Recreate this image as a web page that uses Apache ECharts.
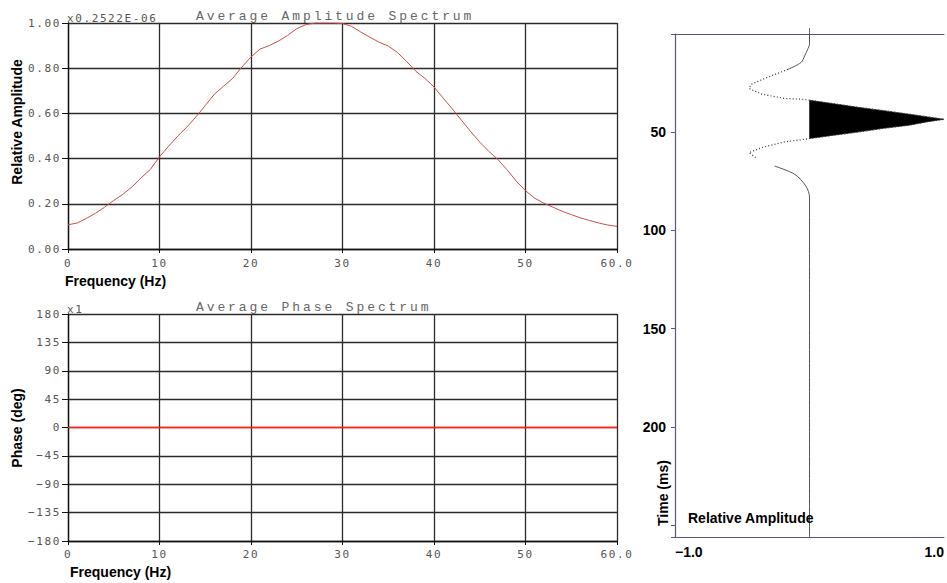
<!DOCTYPE html>
<html><head><meta charset="utf-8">
<script src="https://cdn.jsdelivr.net/npm/echarts@6/dist/echarts.min.js"></script>
<style>
html,body{margin:0;padding:0;background:#fff;overflow:hidden}
#c{width:947px;height:583px}
#c text[style*="Liberation Mono"], #c text[font-family*="Liberation Mono"]{letter-spacing:2.9px}
#c text[style*="DejaVu Sans Mono"], #c text[font-family*="DejaVu Sans Mono"]{letter-spacing:1.6px}
</style></head><body><div id="c"></div>
<script>
// ---- Average amplitude spectrum (relative, x0.2522E-06) ----
const freqHz = [0,1,2,3,4,5,6,7,8,9,10,11,12,13,14,15,16,17,18,19,20,21,22,23,24,25,26,27,28,29,30,
  31,32,33,34,35,36,37,38,39,40,41,42,43,44,45,46,47,48,49,50,51,52,53,54,55,56,57,58,59,60];
const avgAmplitude = [0.107,0.115,0.135,0.158,0.185,0.215,0.242,0.275,0.315,0.352,
  0.408,0.455,0.500,0.540,0.585,0.635,0.685,0.720,0.755,0.805,
  0.850,0.885,0.900,0.920,0.945,0.975,0.993,1.000,1.000,1.000,
  0.998,0.985,0.960,0.937,0.915,0.898,0.870,0.830,0.787,0.755,
  0.717,0.668,0.620,0.570,0.520,0.473,0.432,0.395,0.350,0.300,
  0.258,0.225,0.203,0.185,0.167,0.152,0.138,0.126,0.115,0.106,0.100];

// ---- Average phase spectrum (deg) ----
const phaseFreqHz = [0,5,10,15,20,25,30,35,40,45,50,55,60];
const avgPhaseDeg = [0,0,0,0,0,0,0,0,0,0,0,0,0];

// ---- Wavelet (time in ms, relative amplitude) ----
const waveTimeMs = [-3,0,5,8,11,14.5,18,22,25.5,27.7,30.6,32.8,33.2,33.7,35.5,37.4,39,40.8,42.2,43.4,
  44.6,46.4,48,49.8,51.5,53.2,53.7,54.9,57.8,60.4,62.9,67.2,71.4,77.4,83,256];
const waveAmp = [0,0,0,-0.015,-0.035,-0.063,-0.16,-0.31,-0.43,-0.45,-0.355,-0.185,-0.05,0,0.18,0.37,0.55,0.74,0.88,1.0,
  0.88,0.74,0.55,0.37,0.18,0,-0.05,-0.185,-0.355,-0.45,-0.40,-0.26,-0.11,-0.027,0,0];

const monoTick = {fontFamily:'DejaVu Sans Mono', fontSize:11, color:'#555'};
const gridLine = {show:true, lineStyle:{color:'#2b2b2b', width:1.3}};
const boldFont = 'bold 14px "Liberation Sans", Arial, sans-serif';
const frameBlue = '#55558a';
const phaseRed = '#f02a18';

const ampPts = freqHz.map((f,i)=>[f, avgAmplitude[i]]);
const phasePts = phaseFreqHz.map((f,i)=>[f, avgPhaseDeg[i]]);
const wavePts = waveTimeMs.map((t,i)=>[waveAmp[i], t]);
const waveSolidTop = wavePts.filter(p=>p[1] <= 18);
const waveSolidBot = wavePts.filter(p=>p[1] >= 67);
const waveDotted = wavePts.filter(p=>p[1] >= 18 && p[1] <= 67);
const lobe = wavePts.filter(p=>p[1] >= 33.7 && p[1] <= 53.2 && p[0] >= 0);

const chart = echarts.init(document.getElementById('c'), null, {renderer:'svg'});
chart.setOption({
  animation:false,
  backgroundColor:'#fff',
  grid:[
    {left:68, top:23, width:549, height:226},
    {left:68, top:314, width:549, height:227},
    {left:675, top:34, width:274, height:503}
  ],
  xAxis:[
    {gridIndex:0, type:'value', min:0, max:60, interval:10,
     axisLine:{show:true, onZero:false, lineStyle:{color:'#111', width:1.3}},
     axisTick:{show:true, length:4, lineStyle:{color:'#111'}},
     axisLabel:Object.assign({margin:9, formatter:v=>v===60?'60.0':String(v)}, monoTick),
     splitLine:gridLine},
    {gridIndex:1, type:'value', min:0, max:60, interval:10,
     axisLine:{show:true, onZero:false, lineStyle:{color:'#111', width:1.3}},
     axisTick:{show:true, length:4, lineStyle:{color:'#111'}},
     axisLabel:Object.assign({margin:8, formatter:v=>v===60?'60.0':String(v)}, monoTick),
     splitLine:gridLine},
    {gridIndex:2, type:'value', min:-1, max:1, interval:2, position:'bottom',
     axisLine:{show:true, onZero:false, lineStyle:{color:frameBlue, width:1.2}},
     axisTick:{show:false}, splitLine:{show:false},
     axisLabel:{margin:8, fontSize:14, fontWeight:'bold', fontFamily:'Liberation Sans', color:'#000',
       alignMinLabel:'left', alignMaxLabel:'right',
       formatter:v=>(v<0?'\u2212':'')+Math.abs(v).toFixed(1)}},
    {gridIndex:2, type:'value', min:-1, max:1, interval:2, position:'top',
     axisLine:{show:true, onZero:false, lineStyle:{color:frameBlue, width:1.2}},
     axisTick:{show:false}, splitLine:{show:false}, axisLabel:{show:false}}
  ],
  yAxis:[
    {gridIndex:0, type:'value', min:0, max:1, interval:0.2,
     axisLine:{show:true, onZero:false, lineStyle:{color:'#111', width:1.3}},
     axisTick:{show:true, length:6, lineStyle:{color:'#111'}},
     axisLabel:Object.assign({margin:7, formatter:v=>v.toFixed(2)}, monoTick),
     splitLine:gridLine},
    {gridIndex:1, type:'value', min:-180, max:180, interval:45,
     axisLine:{show:true, onZero:false, lineStyle:{color:'#111', width:1.3}},
     axisTick:{show:true, length:6, lineStyle:{color:'#111'}},
     axisLabel:Object.assign({margin:7, formatter:v=>(v<0?'\u2212':'')+Math.abs(v)}, monoTick),
     splitLine:{show:true, lineStyle:{width:1.3,
       color:['#2b2b2b','#2b2b2b','#2b2b2b','#2b2b2b',phaseRed,'#2b2b2b','#2b2b2b','#2b2b2b','#2b2b2b']}}},
    {gridIndex:2, type:'value', inverse:true, min:0, max:256, interval:50,
     axisLine:{show:true, onZero:false, lineStyle:{color:frameBlue, width:1.2}},
     axisTick:{show:true, length:4, lineStyle:{color:frameBlue}},
     axisLabel:{margin:9, fontSize:14, fontWeight:'bold', fontFamily:'Liberation Sans', color:'#000',
       formatter:v=>(v>0 && v<250)?String(v):''},
     splitLine:{show:false}}
  ],
  series:[
    {type:'line', xAxisIndex:0, yAxisIndex:0, data:ampPts, showSymbol:false, z:5,
     lineStyle:{color:'#cc4d4d', width:1}},
    {type:'line', xAxisIndex:1, yAxisIndex:1, data:phasePts, showSymbol:false, z:5,
     lineStyle:{color:phaseRed, width:1.3}},
    {type:'custom', xAxisIndex:2, yAxisIndex:2, data:[0], clip:false,
     renderItem:(params, api)=>({type:'polygon',
       shape:{points:lobe.map(p=>api.coord(p))}, style:{fill:'#000', stroke:'#000', lineWidth:0.5}})},
    {type:'line', xAxisIndex:2, yAxisIndex:2, data:waveDotted, showSymbol:false,
     lineStyle:{color:'#333', width:1.2, type:[1,2.2]}},
    {type:'line', xAxisIndex:2, yAxisIndex:2, data:waveSolidTop, showSymbol:false, smooth:0.3, clip:false,
     lineStyle:{color:'#555', width:1}},
    {type:'line', xAxisIndex:2, yAxisIndex:2, data:waveSolidBot, showSymbol:false, smooth:0.3,
     lineStyle:{color:'#555', width:1}}
  ],
  graphic:[
    {type:'text', x:67, y:18, style:{text:'x0.2522E-06', font:'11px "DejaVu Sans Mono"', fill:'#555', verticalAlign:'middle'}},
    {type:'text', x:196, y:16, style:{text:'Average Amplitude Spectrum', font:'13px "Liberation Mono"', fill:'#666', verticalAlign:'middle'}},
    {type:'text', x:67, y:309, style:{text:'x1', font:'11px "DejaVu Sans Mono"', fill:'#555', verticalAlign:'middle'}},
    {type:'text', x:196, y:307, style:{text:'Average Phase Spectrum', font:'13px "Liberation Mono"', fill:'#666', verticalAlign:'middle'}},
    {type:'text', x:17, y:122, rotation:Math.PI/2, style:{text:'Relative Amplitude', font:boldFont, fill:'#000', align:'center', verticalAlign:'middle'}},
    {type:'text', x:17, y:428, rotation:Math.PI/2, style:{text:'Phase (deg)', font:boldFont, fill:'#000', align:'center', verticalAlign:'middle'}},
    {type:'text', x:65, y:281, style:{text:'Frequency (Hz)', font:boldFont, fill:'#000', verticalAlign:'middle'}},
    {type:'text', x:70, y:572, style:{text:'Frequency (Hz)', font:boldFont, fill:'#000', verticalAlign:'middle'}},
    {type:'text', x:663, y:493, rotation:Math.PI/2, style:{text:'Time (ms)', font:boldFont, fill:'#000', align:'center', verticalAlign:'middle'}},
    {type:'text', x:688, y:518, z:100, style:{text:'Relative Amplitude', font:boldFont, fill:'#000', verticalAlign:'middle'}}
  ]
});
</script></body></html>
